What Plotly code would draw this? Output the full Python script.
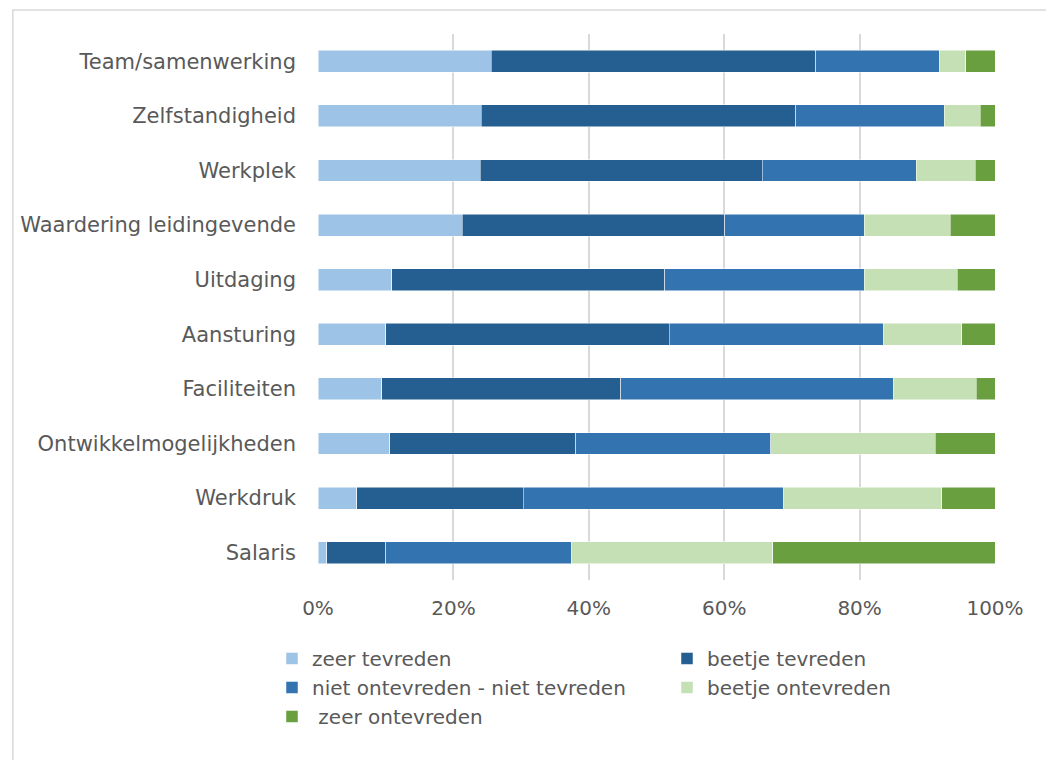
import plotly.graph_objects as go

categories = ["Team/samenwerking", "Zelfstandigheid", "Werkplek", "Waardering leidingevende",
              "Uitdaging", "Aansturing", "Faciliteiten", "Ontwikkelmogelijkheden",
              "Werkdruk", "Salaris"]

zeer_tevreden = [25.6, 24.1, 24.0, 21.3, 10.9, 10.0, 9.4, 10.6, 5.7, 1.3]
beetje_tevreden = [47.9, 46.5, 41.6, 38.8, 40.3, 41.9, 35.3, 27.5, 24.6, 8.7]
niet_niet = [18.3, 21.9, 22.8, 20.6, 29.5, 31.6, 40.3, 28.8, 38.4, 27.4]
beetje_ontevreden = [3.9, 5.3, 8.7, 12.7, 13.7, 11.6, 12.2, 24.3, 23.4, 29.8]
zeer_ontevreden = [4.3, 2.2, 2.9, 6.6, 5.6, 4.9, 2.8, 8.8, 7.9, 32.8]

series = [
    ("zeer tevreden", zeer_tevreden, "#9DC3E6"),
    ("beetje tevreden", beetje_tevreden, "#255E91"),
    ("niet ontevreden - niet tevreden", niet_niet, "#3373B0"),
    ("beetje ontevreden", beetje_ontevreden, "#C5E0B4"),
    (" zeer ontevreden", zeer_ontevreden, "#6A9F40"),
]

# page body adds an 8px offset, margins compensate
W, H = 1054, 760
L, R, T, B = 307, 67, 26, 188
pw, ph = W - L - R, H - T - B

fig = go.Figure()
for name, vals, color in series:
    fig.add_trace(go.Bar(y=categories, x=vals, name=name, orientation="h",
                         marker=dict(color=color, line=dict(color="white", width=0.5))))

font_color = "#595959"
fig.update_layout(
    width=W, height=H,
    margin=dict(l=L, r=R, t=T, b=B),
    barmode="stack", bargap=0.6,
    plot_bgcolor="white", paper_bgcolor="white",
    font=dict(family="DejaVu Sans", size=20, color=font_color),
    showlegend=True,
    legend=dict(orientation="h", x=-0.001, xanchor="left", y=-0.108, yanchor="top",
                entrywidth=350, entrywidthmode="pixels", traceorder="normal",
                font=dict(size=20, color=font_color), itemwidth=30,
                bgcolor="rgba(0,0,0,0)", tracegroupgap=0),
)
fig.update_xaxes(range=[0, 100], tickvals=[0, 20, 40, 60, 80, 100],
                 ticktext=["0%", "20%", "40%", "60%", "80%", "100%"],
                 showgrid=True, gridcolor="#D9D9D9", gridwidth=1.5,
                 zeroline=False, showline=False, ticklabelstandoff=14,
                 tickfont=dict(size=20, color=font_color))
fig.update_yaxes(autorange="reversed", showgrid=False, showline=False,
                 ticklabelstandoff=21, tickfont=dict(size=21, color=font_color))

# outer chart frame
fig.add_shape(type="rect", xref="paper", yref="paper",
              x0=(0.5 - L) / pw, x1=(1043 - L) / pw,
              y0=(H - B - 770) / ph, y1=(H - B - 2) / ph,
              line=dict(color="#D9D9D9", width=1.5), fillcolor="rgba(0,0,0,0)", layer="below")

fig.write_html("out.html")
